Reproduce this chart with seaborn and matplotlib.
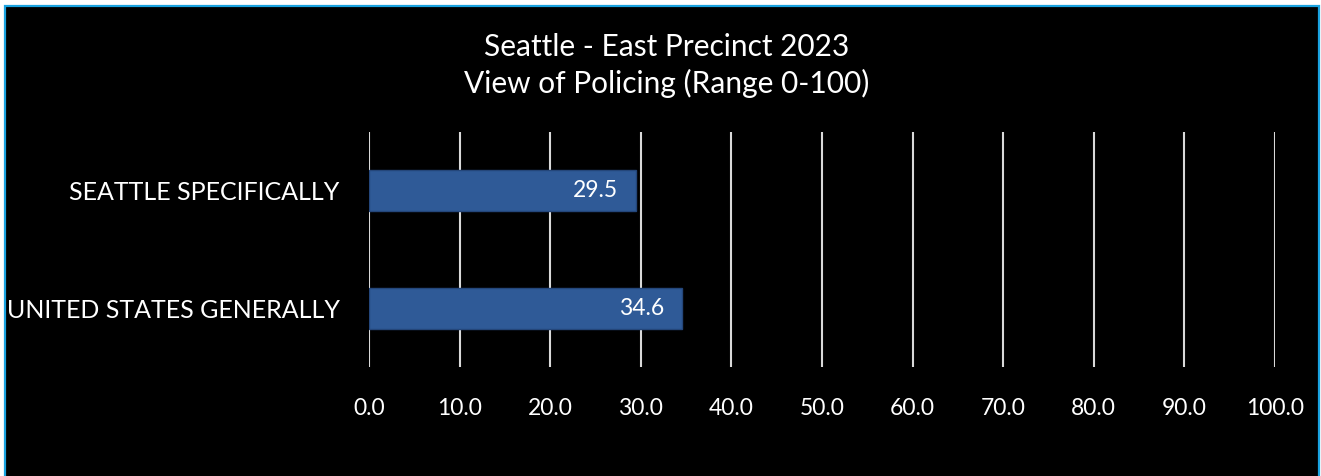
import matplotlib
matplotlib.use("Agg")
import matplotlib.pyplot as plt
import pandas as pd
import seaborn as sns
from matplotlib.patches import Rectangle

categories = ["SEATTLE SPECIFICALLY", "UNITED STATES GENERALLY"]
scores = [29.5, 34.6]
x_ticks = [0, 10, 20, 30, 40, 50, 60, 70, 80, 90, 100]
title_lines = ["Seattle - East Precinct 2023", "View of Policing (Range 0-100)"]

W, H = 1321, 476
sns.set_theme(style="white")
plt.rcParams["font.family"] = ["Lato", "DejaVu Sans"]

fig = plt.figure(figsize=(W / 100, H / 100), dpi=100, facecolor="white")
# black panel with thin light-blue frame
fig.patches.append(Rectangle((5 / W, -0.05), 1314 / W, 1.05 - 6 / H, transform=fig.transFigure,
                             facecolor="black", edgecolor="#1AA3E0", linewidth=1.6, zorder=-10))

ax = fig.add_axes([369 / W, 1 - 367 / H, (1275 - 369) / W, (367 - 132) / H])
ax.set_facecolor("none")

df = pd.DataFrame({"category": categories, "score": scores})
sns.barplot(data=df, x="score", y="category", orient="h", ax=ax, color="#2F5A97",
            saturation=1, width=0.35, edgecolor="#24467A", linewidth=1, zorder=3)

ax.set_xlim(0, 100)
ax.set_ylim(1.5, -0.5)
ax.set_xticks(x_ticks)
ax.set_xticklabels([f"{t:.1f}" for t in x_ticks], color="white", fontsize=16.5)
ax.tick_params(axis="x", length=0, pad=22)
ax.set_yticks(range(len(categories)))
ax.set_yticklabels(categories, color="white", fontsize=18)
ax.tick_params(axis="y", length=0, pad=21)
ax.set_xlabel("")
ax.set_ylabel("")
for t in x_ticks:
    ax.axvline(t, color="#D9D9D9", linewidth=1.5, zorder=1)
for s in ax.spines.values():
    s.set_visible(False)

for i, v in enumerate(scores):
    ax.text(v - 2, i, f"{v:.1f}", color="white", fontsize=16.5, ha="right", va="center", zorder=4)

fig.text(667 / W, 1 - 47 / H, title_lines[0], color="white", fontsize=21.5, ha="center", va="center")
fig.text(667 / W, 1 - 83 / H, title_lines[1], color="white", fontsize=21.5, ha="center", va="center")

fig.savefig("out.png", dpi=100, facecolor="white")
